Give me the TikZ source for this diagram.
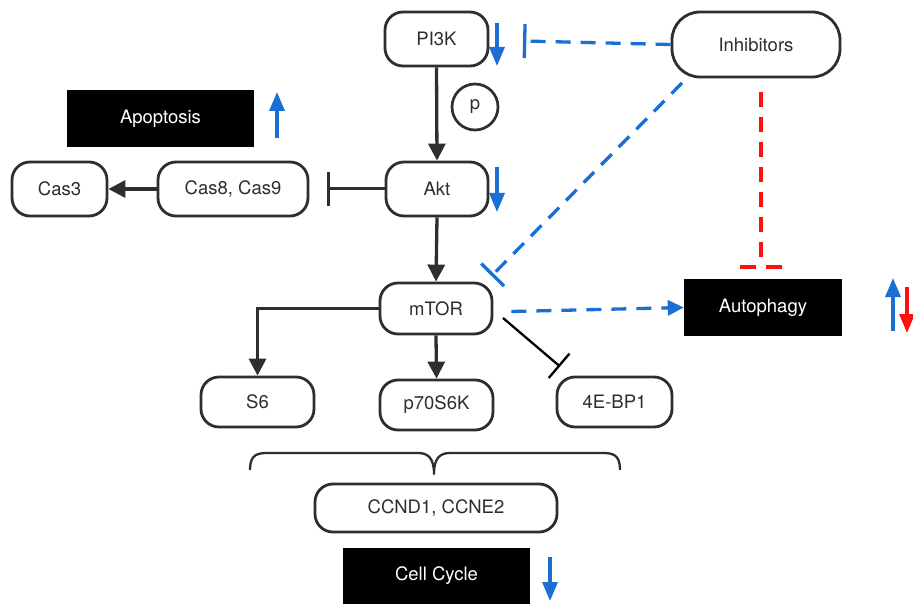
\documentclass[tikz,border=0pt]{standalone}
\usepackage{fontspec}
\setmainfont{TeX Gyre Heros}
\usetikzlibrary{arrows.meta,calc}
\definecolor{dk}{HTML}{2E2E2E}
\definecolor{bl}{HTML}{1B6FD2}
\definecolor{rd}{HTML}{FF1010}
\begin{document}
\begin{tikzpicture}[x=1pt,y=-1pt,
  box/.style={draw=dk, line width=2.8pt, rounded corners=18pt, fill=white, text=dk, inner sep=0pt, font=\fontsize{18.5}{20}\selectfont},
  blk/.style={fill=black, text=white, inner sep=0pt, font=\fontsize{18.5}{20}\selectfont},
  arr/.style={draw=dk, line width=3.3pt, -{Triangle[length=17pt,width=17pt]}},
  barr/.style={draw=dk, line width=3pt, -{Bar[width=34pt,line width=3pt]}},
  bdash/.style={draw=bl, line width=3.3pt, dash pattern=on 15pt off 10pt},
  updown/.style={draw=bl, line width=3.3pt, -{Triangle[length=19pt,width=15pt]}}
]
\useasboundingbox (0,0) rectangle (913,604);
% nodes
\node[box, minimum width=103pt, minimum height=54pt] (pi3k) at (436.5,39) {PI3K};
\node[box, minimum width=168pt, minimum height=65pt, rounded corners=28pt] (inh) at (756,44.5) {Inhibitors};
\node[draw=dk, line width=2.7pt, circle, minimum size=46pt, inner sep=0pt, text=dk, font=\fontsize{18.5}{20}\selectfont] (p) at (475,107) {p};
\node[blk, minimum width=187pt, minimum height=57pt] (apo) at (160.5,118.5) {Apoptosis};
\node[box, minimum width=95pt, minimum height=54pt] (cas3) at (59.5,189) {Cas3};
\node[box, minimum width=150pt, minimum height=54pt] (cas89) at (233,189) {Cas8, Cas9};
\node[box, minimum width=102pt, minimum height=54pt] (akt) at (437,189) {Akt};
\node[box, minimum width=112pt, minimum height=51pt] (mtor) at (436,308.5) {mTOR};
\node[blk, minimum width=158pt, minimum height=57pt] (auto) at (763,307.5) {Autophagy};
\node[box, minimum width=113pt, minimum height=50pt] (s6) at (257.5,402) {S6};
\node[box, minimum width=113pt, minimum height=50pt] (p70) at (436.5,405) {p70S6K};
\node[box, minimum width=115pt, minimum height=50pt] (ebp) at (614.5,402) {4E-BP1};
\node[box, minimum width=242pt, minimum height=48pt] (ccn) at (436,508) {CCND1, CCNE2};
\node[blk, minimum width=187pt, minimum height=57pt] (cc) at (436.5,576) {Cell Cycle};
% coordinates for free ends
\coordinate (casbar) at (327,189);
\coordinate (pibar) at (523,41);
\coordinate (mtorbar) at (491.5,276);
\coordinate (inhdiag) at (682,83);
\coordinate (redtop) at (761,92);
\coordinate (redbar) at (761,267);
\coordinate (ebpbar) at (560,366.5);
\coordinate (mtorr) at (503,318);
% black connectors
\draw[arr] (pi3k.south) -- (akt.north);
\draw[arr] (akt.south) -- (mtor.north);
\draw[arr] (cas89.west) -- (cas3.east);
\draw[barr] (akt.west) -- (casbar);
\draw[arr] (mtor.west) -| (s6.north);
\draw[arr] (mtor.south) -- (p70.north);
\draw[draw=black, line width=2.3pt, -{Bar[width=32pt,line width=2.3pt]}] (mtorr) -- (ebpbar);
% inhibitor connectors
\draw[bdash, -{Bar[width=34pt,line width=3.3pt]}] (inh.west) -- (pibar);
\draw[bdash, -{Bar[width=32pt,line width=3.3pt]}] (inhdiag) -- (mtorbar);
\draw[draw=rd, line width=3.6pt, dash pattern=on 15pt off 10pt] (redtop) -- (redbar);
\draw[draw=rd, line width=3.6pt] ($(redbar)+(-21,0)$) -- ++(16,0) ($(redbar)+(5,0)$) -- ++(16,0);
\draw[bdash, -{Triangle[length=16pt,width=15pt]}] (mtor.east) ++(18,3) -- (auto.west);
% brace
\draw[dk, line width=2.3pt, line join=round]
  (250,470) .. controls (250,458) and (254,453) .. (266,453) -- (418,453)
  .. controls (428,453) and (434,458) .. (434,474)
  .. controls (434,458) and (440,453) .. (450,453) -- (604,453)
  .. controls (616,453) and (620,458) .. (620,470);
% up/down indicators
\draw[updown] (497,23) -- (497,66);
\draw[updown] (497,167) -- (497,212);
\draw[updown] (277,138) -- (277,92);
\draw[updown] (893,331) -- (893,278);
\draw[draw=rd, line width=3.3pt, -{Triangle[length=19pt,width=15pt]}] (907,287) -- (907,333);
\draw[updown] (550,557) -- (550,601);
\end{tikzpicture}
\end{document}
